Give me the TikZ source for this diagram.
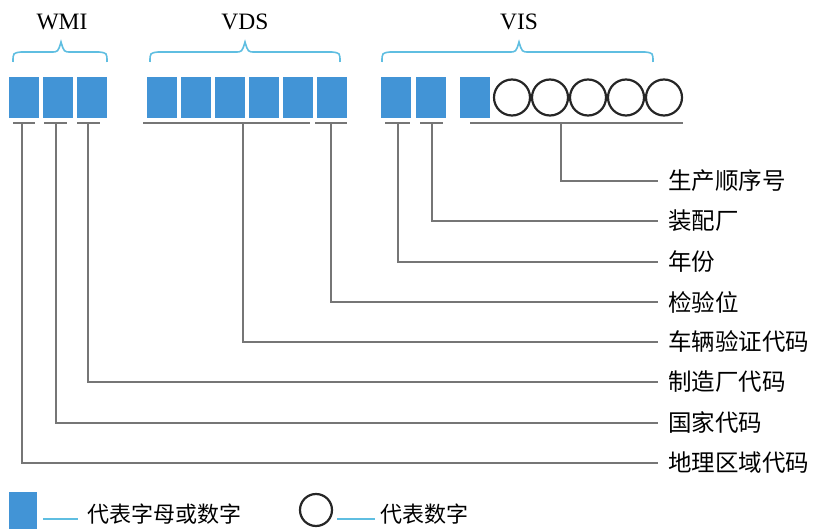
\documentclass[tikz,border=0pt]{standalone}
\usepackage{fontspec}
\setmainfont{Liberation Serif}
\newfontfamily\cjk{Noto Sans CJK SC}
\definecolor{vblue}{RGB}{66,148,214}
\definecolor{bcyan}{RGB}{95,190,225}
\definecolor{lgray}{RGB}{118,118,118}
\begin{document}
\begin{tikzpicture}[x=1pt,y=-1pt,
 sq/.style={fill=vblue, draw=none, minimum width=30pt, minimum height=41pt, inner sep=0pt},
 ci/.style={circle, draw=black!85, line width=2.2pt, minimum size=36pt, inner sep=0pt},
 gl/.style={draw=lgray, line width=2pt},
 ul/.style={draw=lgray, line width=2.4pt},
 br/.style={draw=bcyan, line width=1.6pt},
 lbl/.style={font=\cjk\fontsize{23.5}{26}\selectfont, anchor=west, inner sep=0pt},
 leg/.style={font=\cjk\fontsize{22}{26}\selectfont, anchor=west, inner sep=0pt},
 hd/.style={font=\fontsize{23.5}{26}\selectfont, inner sep=0pt},
 cl/.style={draw=bcyan, line width=2pt}]
\useasboundingbox (0,0) rectangle (814,529);
% headings
\node[hd] (hW) at (62,22) {WMI};
\node[hd] (hD) at (245,22) {VDS};
\node[hd] (hV) at (519,22) {VIS};
% braces
\draw[br] (13,62) .. controls (13,53) .. (21,52) -- (51,52) .. controls (58,52) .. (61,42) .. controls (64,52) .. (71,52) -- (99,52) .. controls (107,53) .. (107,62);
\draw[br] (150,62) .. controls (150,53) .. (158,52) -- (235,52) .. controls (242,52) .. (245,42) .. controls (248,52) .. (255,52) -- (332,52) .. controls (340,53) .. (340,62);
\draw[br] (382,62) .. controls (382,53) .. (390,52) -- (509,52) .. controls (516,52) .. (519,42) .. controls (522,52) .. (529,52) -- (645,52) .. controls (653,53) .. (653,62);
% WMI boxes
\node[sq] (w1) at (24,97.5) {};
\node[sq] (w2) at (58,97.5) {};
\node[sq] (w3) at (92,97.5) {};
% VDS boxes
\node[sq] (d1) at (162,97.5) {};
\node[sq] (d2) at (196,97.5) {};
\node[sq] (d3) at (229.5,97.5) {};
\node[sq] (d4) at (263.5,97.5) {};
\node[sq] (d5) at (297.5,97.5) {};
\node[sq] (d6) at (331.5,97.5) {};
% VIS
\node[sq] (v1) at (396,97.5) {};
\node[sq] (v2) at (431,97.5) {};
\node[sq] (v3) at (475,97.5) {};
\node[ci] (c1) at (512,97.5) {};
\node[ci] (c2) at (550,97.5) {};
\node[ci] (c3) at (588,97.5) {};
\node[ci] (c4) at (626,97.5) {};
\node[ci] (c5) at (664,97.5) {};
% underlines
\draw[ul] (13,123) -- (35,123);
\draw[ul] (44,123) -- (67,123);
\draw[ul] (77,123) -- (100,123);
\draw[ul] (143,123) -- (310,123);
\draw[ul] (315,123) -- (347,123);
\draw[ul] (385,123) -- (410,123);
\draw[ul] (420,123) -- (443,123);
\draw[ul] (470,123) -- (683,123);
% tick points
\coordinate (t1) at (22,123);
\coordinate (t2) at (56,123);
\coordinate (t3) at (88,123);
\coordinate (t4) at (243,123);
\coordinate (t5) at (331,123);
\coordinate (t6) at (398,123);
\coordinate (t7) at (432,123);
\coordinate (t8) at (561,123);
% labels
\node[lbl] (l8) at (668,181) {生产顺序号};
\node[lbl] (l7) at (668,221) {装配厂};
\node[lbl] (l6) at (668,262) {年份};
\node[lbl] (l5) at (668,302) {检验位};
\node[lbl] (l4) at (668,342) {车辆验证代码};
\node[lbl] (l3) at (668,382) {制造厂代码};
\node[lbl] (l2) at (668,423) {国家代码};
\node[lbl] (l1) at (668,463) {地理区域代码};
% connectors
\foreach \i in {1,...,8}{
  \draw[gl] (t\i) |- ([xshift=-10pt]l\i.west);
}
% legend
\node[sq, minimum width=28pt, minimum height=41pt] (lb) at (23,512.5) {};
\node[leg] (lt1) at (87,514) {代表字母或数字};
\draw[cl] (lb.east |- lt1) ++(6,5) coordinate (ls1) -- ([xshift=-9pt,yshift=-5pt]lt1.west);
\node[ci, minimum size=32pt] (lc) at (316,510) {};
\node[leg] (lt2) at (380,514) {代表数字};
\draw[cl] ([xshift=4pt,yshift=-9pt]lc.east) -- ([xshift=-5pt,yshift=-5pt]lt2.west);
\end{tikzpicture}
\end{document}
